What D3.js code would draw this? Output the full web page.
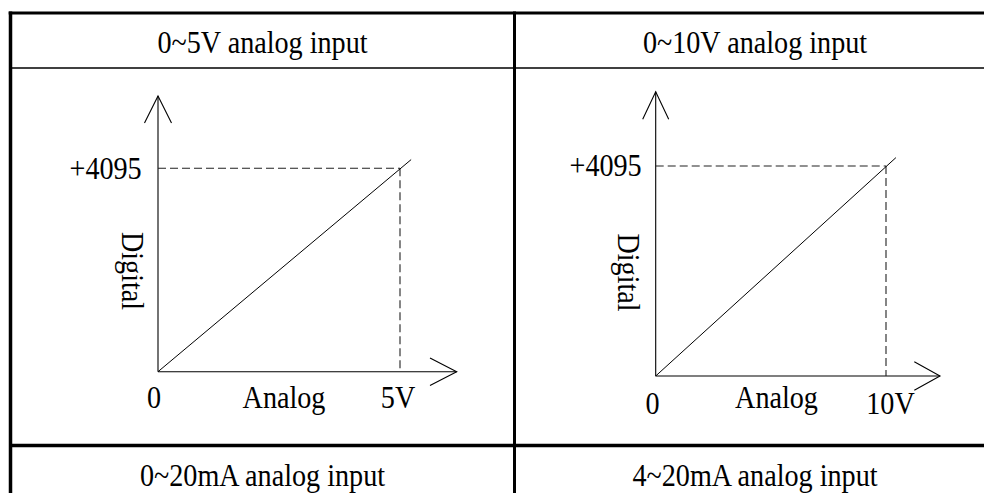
<!DOCTYPE html>
<html><head><meta charset="utf-8">
<script src="https://cdn.jsdelivr.net/npm/d3@7"></script>
<style>
html,body{margin:0;padding:0;background:#fff;}
svg{display:block;}
text{font-family:"Liberation Serif","Times New Roman",serif;fill:#000;}
</style></head>
<body>
<script>
// ---- data ----
const titles = ["0~5V analog input", "0~10V analog input"];
const bottomTitles = ["0~20mA analog input", "4~20mA analog input"];
const xMaxValues = [5, 10];
const xMaxLabels = ["5V", "10V"];
const yMax = 4095;
const yTickLabel = "+4095";
const xAxisTitle = "Analog";
const yAxisTitle = "Digital";
const zeroLabel = "0";
const lineSeries = [
  [[0, 0], [5.23, 4270]],
  [[0, 0], [10.43, 4258]]
];

// ---- layout ----
const W = 984, H = 493;
const layout = [
  {x0: 158, x1: 400, y0: 371.7, y1: 168.3, yTip: 96, xTip: 456.7,
   yWing: [13.5, 27], xWing: [26.7, 13.7],
   titleX: 262.5, digitalX: 121.7, digitalY: 271, tickEnd: 141.7, tickBase: 179,
   zeroX: 154, zeroY: 408, analogX: 284, analogY: 407.5, maxX: 398, maxY: 407.5},
  {x0: 655.7, x1: 886, y0: 376, y1: 166, yTip: 91.7, xTip: 940,
   yWing: [13, 27.6], xWing: [25.7, 14.2],
   titleX: 755, digitalX: 618.3, digitalY: 272.5, tickEnd: 641.7, tickBase: 176,
   zeroX: 652.5, zeroY: 414, analogX: 776.5, analogY: 408, maxX: 890.5, maxY: 413.5}
];
const FS = 32, SX = 0.88;

const svg = d3.select("body").append("svg").attr("width", W).attr("height", H);

function txt(g, s, x, y, anchor, rot) {
  return g.append("text")
    .attr("transform", `translate(${x},${y})` + (rot ? ` rotate(${rot})` : "") + ` scale(${SX},1)`)
    .attr("text-anchor", anchor)
    .attr("font-size", FS)
    .text(s);
}

// ---- table frame ----
const frame = svg.append("g").attr("stroke", "#000");
frame.append("line").attr("x1", 8.7).attr("x2", W).attr("y1", 13).attr("y2", 13).attr("stroke-width", 3);
frame.append("line").attr("x1", 10.5).attr("x2", W).attr("y1", 68).attr("y2", 68).attr("stroke-width", 1.5);
frame.append("line").attr("x1", 10.5).attr("x2", W).attr("y1", 445.5).attr("y2", 445.5).attr("stroke-width", 3.5);
frame.append("line").attr("x1", 10.5).attr("x2", 10.5).attr("y1", 11.5).attr("y2", H).attr("stroke-width", 3.5);
frame.append("line").attr("x1", 514.5).attr("x2", 514.5).attr("y1", 11.5).attr("y2", H).attr("stroke-width", 3);

layout.forEach((L, i) => {
  const g = svg.append("g");
  const x = d3.scaleLinear().domain([0, xMaxValues[i]]).range([L.x0, L.x1]);
  const y = d3.scaleLinear().domain([0, yMax]).range([L.y0, L.y1]);

  // titles
  txt(g, titles[i], L.titleX, 53, "middle");
  txt(g, bottomTitles[i], L.titleX, 486, "middle");

  // axes with arrows
  const ax = g.append("g").attr("stroke", "#000").attr("stroke-width", 1.1).attr("fill", "none");
  ax.append("line").attr("x1", x(0)).attr("y1", y(0)).attr("x2", x(0)).attr("y2", L.yTip);
  ax.append("path").attr("d",
    `M${x(0) - L.yWing[0]},${L.yTip + L.yWing[1]}L${x(0)},${L.yTip}L${x(0) + L.yWing[0]},${L.yTip + L.yWing[1]}`);
  ax.append("line").attr("x1", x(0)).attr("y1", y(0)).attr("x2", L.xTip).attr("y2", y(0));
  ax.append("path").attr("d",
    `M${L.xTip - L.xWing[0]},${y(0) - L.xWing[1]}L${L.xTip},${y(0)}L${L.xTip - L.xWing[0]},${y(0) + L.xWing[1]}`);

  // dashed guide lines
  const dg = g.append("g").attr("stroke", "#222").attr("stroke-width", 1.1).attr("stroke-dasharray", "8,4").attr("fill", "none");
  dg.append("line").attr("x1", x(0)).attr("y1", y(yMax)).attr("x2", x(xMaxValues[i])).attr("y2", y(yMax));
  dg.append("line").attr("x1", x(xMaxValues[i])).attr("y1", y(yMax)).attr("x2", x(xMaxValues[i])).attr("y2", y(0));

  // data line
  const line = d3.line().x(d => x(d[0])).y(d => y(d[1]));
  g.append("path").datum(lineSeries[i]).attr("d", line)
    .attr("fill", "none").attr("stroke", "#000").attr("stroke-width", 1);

  // labels
  txt(g, yTickLabel, L.tickEnd, L.tickBase, "end");
  txt(g, yAxisTitle, L.digitalX, L.digitalY, "middle", 90);
  txt(g, zeroLabel, L.zeroX, L.zeroY, "middle");
  txt(g, xAxisTitle, L.analogX, L.analogY, "middle");
  txt(g, xMaxLabels[i], L.maxX, L.maxY, "middle");
});
</script>
</body></html>
